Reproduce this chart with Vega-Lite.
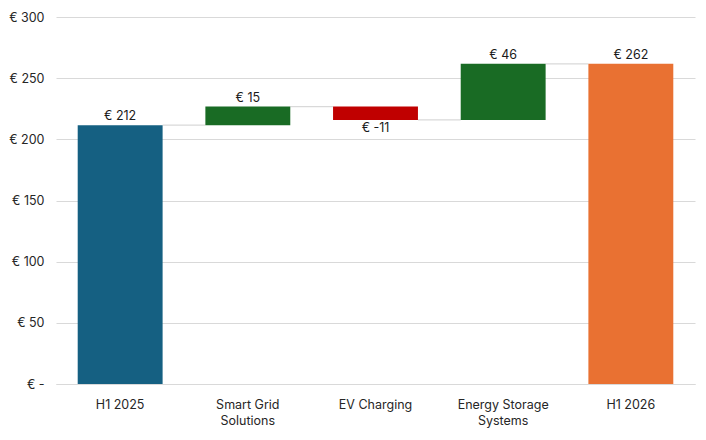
{
  "$schema": "https://vega.github.io/schema/vega-lite/v6.json",
  "width": 639,
  "height": 367,
  "autosize": "none",
  "padding": {"left": 56, "top": 17, "right": 11, "bottom": 56},
  "background": "white",
  "config": {
    "font": "Inter",
    "view": {"stroke": null},
    "axis": {"labelFont": "Inter", "labelFontSize": 12.5, "labelColor": "#262626"}
  },
  "data": {
    "values": [
      {"cat": "H1 2025", "start": 0, "end": 211.6, "label": "€ 212", "kind": "start", "next": "Smart Grid Solutions"},
      {"cat": "Smart Grid Solutions", "start": 211.6, "end": 226.8, "label": "€ 15", "kind": "up", "next": "EV Charging"},
      {"cat": "EV Charging", "start": 226.8, "end": 215.9, "label": "€ -11", "kind": "down", "next": "Energy Storage Systems"},
      {"cat": "Energy Storage Systems", "start": 215.9, "end": 261.7, "label": "€ 46", "kind": "up", "next": "H1 2026"},
      {"cat": "H1 2026", "start": 0, "end": 261.7, "label": "€ 262", "kind": "end", "next": null}
    ]
  },
  "encoding": {
    "x": {
      "field": "cat",
      "type": "nominal",
      "sort": null,
      "title": null,
      "scale": {"paddingInner": 0.335, "paddingOuter": 0.17},
      "axis": {
        "labelAngle": 0,
        "ticks": false,
        "domainColor": "#D9D9D9",
        "labelPadding": 14,
        "labelLineHeight": 16.5,
        "labelExpr": "datum.value == 'Smart Grid Solutions' ? ['Smart Grid', 'Solutions'] : datum.value == 'Energy Storage Systems' ? ['Energy Storage', 'Systems'] : datum.value"
      }
    }
  },
  "layer": [
    {
      "transform": [{"filter": "datum.next != null"}],
      "mark": {"type": "rule", "color": "#D9D9D9", "strokeWidth": 1.2},
      "encoding": {
        "x": {"field": "cat", "type": "nominal", "sort": null, "bandPosition": 1},
        "x2": {"field": "next", "bandPosition": 0},
        "y": {"field": "end", "type": "quantitative"}
      }
    },
    {
      "mark": {"type": "bar"},
      "encoding": {
        "y": {
          "field": "start",
          "type": "quantitative",
          "scale": {"domain": [0, 300]},
          "title": null,
          "axis": {
            "values": [0, 50, 100, 150, 200, 250, 300],
            "domain": false,
            "ticks": false,
            "gridColor": "#D9D9D9",
            "labelPadding": 12,
            "labelExpr": "datum.value == 0 ? '€ -' : '€ ' + datum.value"
          }
        },
        "y2": {"field": "end"},
        "color": {
          "field": "kind",
          "type": "nominal",
          "legend": null,
          "scale": {
            "domain": ["start", "up", "down", "end"],
            "range": ["#156082", "#196B24", "#C00000", "#E97132"]
          }
        }
      }
    },
    {
      "transform": [{"filter": "datum.kind != 'down'"}],
      "mark": {"type": "text", "baseline": "bottom", "dy": -2, "fontSize": 12.5, "color": "#1A1A1A"},
      "encoding": {
        "y": {"field": "end", "type": "quantitative"},
        "text": {"field": "label"}
      }
    },
    {
      "transform": [{"filter": "datum.kind == 'down'"}],
      "mark": {"type": "text", "baseline": "top", "dy": 2, "fontSize": 12.5, "color": "#1A1A1A"},
      "encoding": {
        "y": {"field": "end", "type": "quantitative"},
        "text": {"field": "label"}
      }
    }
  ]
}
